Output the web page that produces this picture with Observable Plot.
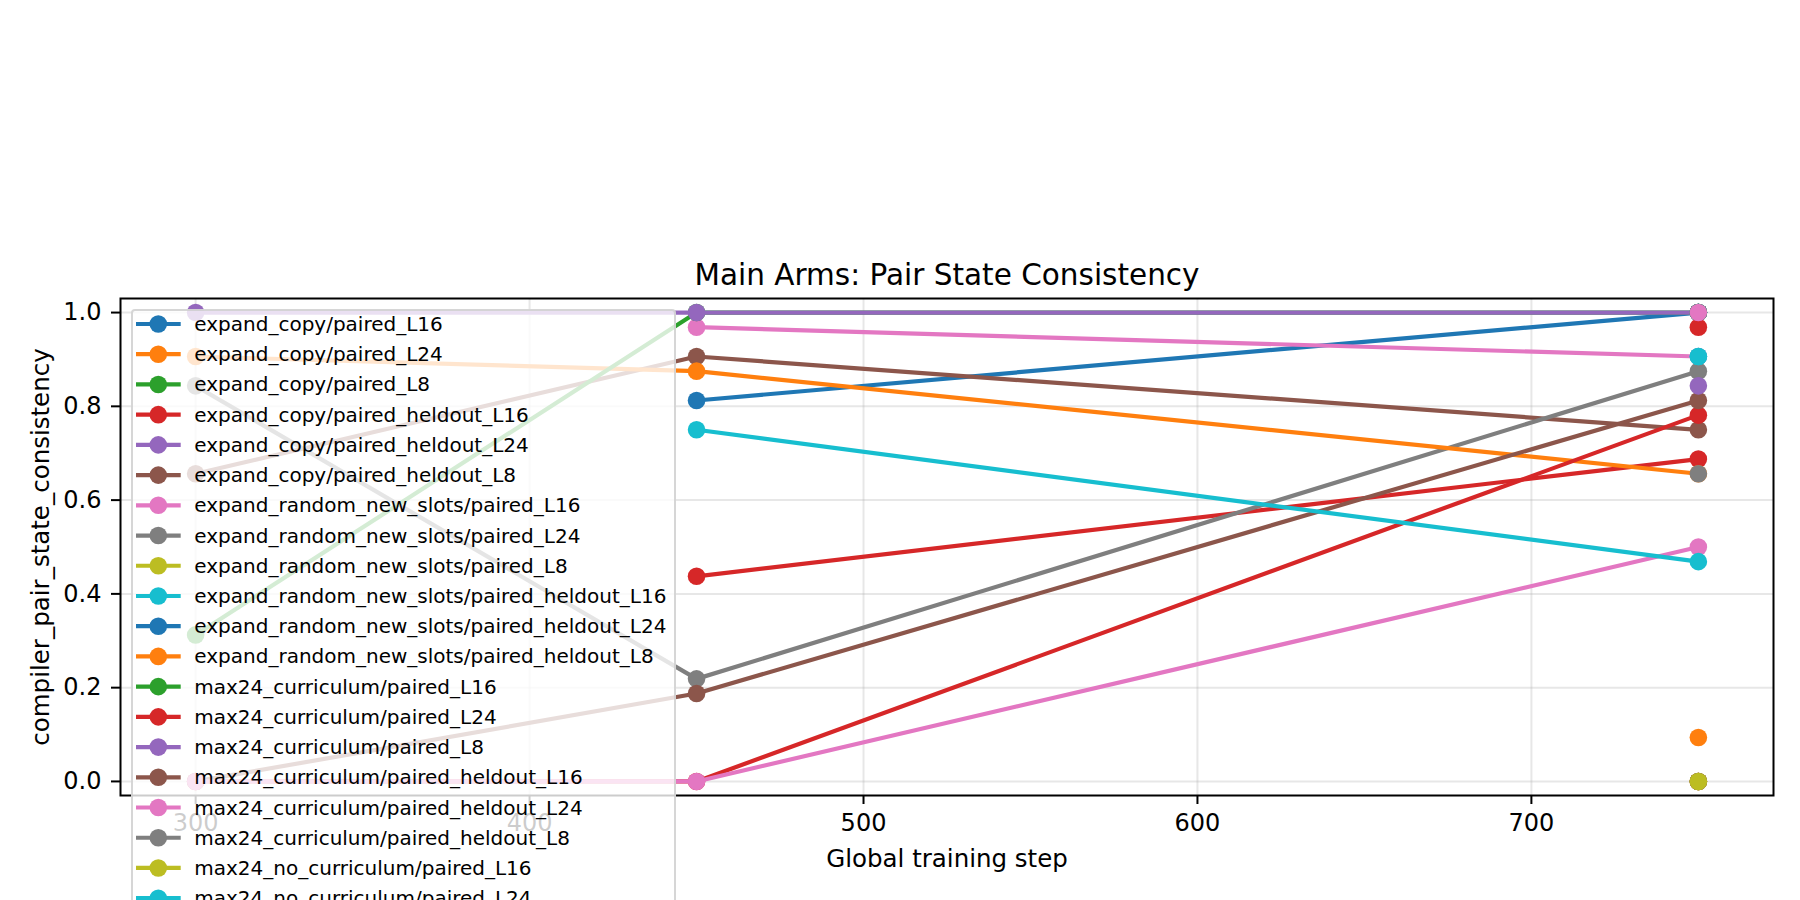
<!DOCTYPE html>
<html>
<head>
<meta charset="utf-8">
<script src="https://cdn.jsdelivr.net/npm/d3@7"></script>
<script src="https://cdn.jsdelivr.net/npm/@observablehq/plot@0.6"></script>
<style>
  html, body { margin: 0; padding: 0; background: #fff; width: 1800px; height: 900px; overflow: hidden; }
  #wrap { position: relative; width: 1800px; height: 900px; overflow: hidden; font-family: "DejaVu Sans", sans-serif; }
  #legend { position: absolute; left: 131px; top: 309px; width: 545px; height: 1000px;
            background: rgba(255,255,255,0.8); border: 2px solid rgba(204,204,204,0.8);
            border-radius: 4px; box-sizing: border-box; }
  #legend svg { position: absolute; left: 0; top: 0; overflow: visible; }
</style>
</head>
<body>
<div id="wrap"></div>
<script>
// ---- data ----
const steps = [300, 450, 750];
const arms = ["expand_copy", "expand_random_new_slots", "max24_curriculum", "max24_no_curriculum", "max24_no_expand"];
const probes = ["paired_L16", "paired_L24", "paired_L8", "paired_heldout_L16", "paired_heldout_L24", "paired_heldout_L8"];
// one row per probe, one column per step (null = not evaluated)
const expandCopy = [
  [null, 0.8125, 1.0],
  [null, null, 0.09375],
  [null, null, 1.0],
  [null, 0.4375, 0.6875],
  [null, null, 1.0],
  [0.65625, 0.90625, 0.75]
];
const expandRandomNewSlots = [
  [null, 0.96875, 0.90625],
  [0.84375, 0.21875, 0.875],
  [null, null, 0.0],
  [null, null, 0.90625],
  [null, null, 1.0],
  [0.90625, 0.875, 0.65625]
];
const max24Curriculum = [
  [0.3125, 1.0, 1.0],
  [0.0, 0.0, 0.78125],
  [1.0, 1.0, 1.0],
  [0.0, 0.1875, 0.8125],
  [0.0, 0.0, 0.5],
  [null, null, 0.65625]
];
const max24NoCurriculum = [
  [null, null, 0.0],
  [null, 0.75, 0.46875],
  [null, null, 1.0],
  [null, null, 0.0],
  [null, null, 1.0],
  [null, null, 0.96875]
];
const max24NoExpand = [
  [null, null, 0.84375],
  [null, null, 0.0],
  [null, null, 1.0],
  [null, null, 0.0],
  [null, null, 0.0],
  [null, null, 0.90625]
];
const xTicks = [300, 400, 500, 600, 700];
const yTicks = [0, 0.2, 0.4, 0.6, 0.8, 1.0];
const titleText = "Main Arms: Pair State Consistency";
const xLabel = "Global training step";
const yLabel = "compiler_pair_state_consistency";
const tab10 = ["#1f77b4", "#ff7f0e", "#2ca02c", "#d62728", "#9467bd", "#8c564b", "#e377c2", "#7f7f7f", "#bcbd22", "#17becf"];

// ---- build series ----
const armValues = [expandCopy, expandRandomNewSlots, max24Curriculum, max24NoCurriculum, max24NoExpand];
const series = [];
arms.forEach((arm, a) => probes.forEach((p, j) => series.push({ name: `${arm}/${p}`, values: armValues[a][j] })));
const names = series.map(s => s.name);
const colors = names.map((_, i) => tab10[i % 10]);

const LW = 4.2, R = 8.8;
const marks = [
  Plot.gridX(xTicks, { stroke: "#b0b0b0", strokeOpacity: 0.3, strokeWidth: 2 }),
  Plot.gridY(yTicks, { stroke: "#b0b0b0", strokeOpacity: 0.3, strokeWidth: 2 })
];
series.forEach(s => {
  const pts = steps.map((st, i) => ({ series: s.name, step: st, value: s.values[i] })).filter(d => d.value != null);
  marks.push(Plot.line(pts, { x: "step", y: "value", stroke: "series", strokeWidth: LW, strokeLinecap: "butt" }));
  marks.push(Plot.dot(pts, { x: "step", y: "value", fill: "series", r: R }));
});
marks.push(
  Plot.frame({ stroke: "black", strokeWidth: 2 }),
  Plot.axisX(xTicks, { tickSize: 9, tickPadding: 9.5, strokeWidth: 2, fontSize: 24, label: null }),
  Plot.axisY(yTicks, { tickSize: 9, tickPadding: 10, strokeWidth: 2, fontSize: 24, tickFormat: d3.format(".1f"), label: null }),
  Plot.text([titleText], { frameAnchor: "top", dy: -14, lineAnchor: "bottom", textAnchor: "middle", text: d => d, fontSize: 29.5 }),
  Plot.text([xLabel], { frameAnchor: "bottom", dy: 71, lineAnchor: "bottom", textAnchor: "middle", text: d => d, fontSize: 24.5 }),
  Plot.text([yLabel], { frameAnchor: "left", dx: -79, rotate: -90, lineAnchor: "middle", textAnchor: "middle", text: d => d, fontSize: 24.5 })
);

const chart = Plot.plot({
  width: 1800,
  height: 900,
  marginLeft: 120,
  marginRight: 27,
  marginTop: 298,
  marginBottom: 105,
  x: { type: "linear", domain: [277.5, 772.5] },
  y: { type: "linear", domain: [-0.03, 1.03] },
  color: { type: "ordinal", domain: names, range: colors },
  style: { fontFamily: "DejaVu Sans", fontSize: "24px", color: "black", background: "white", overflow: "visible" },
  marks
});
const wrap = document.getElementById("wrap");
wrap.appendChild(chart);

// ---- legend (overlay, like matplotlib's semi-transparent frame) ----
const color = chart.scale("color");
const legend = document.createElement("div");
legend.id = "legend";
wrap.appendChild(legend);
const lsvg = d3.select(legend).append("svg").attr("width", 541).attr("height", 1000);
names.forEach((n, i) => {
  const cy = 13 + i * 30.22;
  const c = color.apply(n);
  const g = lsvg.append("g").attr("transform", `translate(0,${cy})`);
  g.append("line").attr("x1", 3).attr("x2", 47.7).attr("y1", 0).attr("y2", 0)
    .attr("stroke", c).attr("stroke-width", LW);
  g.append("circle").attr("cx", 25.3).attr("cy", 0).attr("r", R).attr("fill", c);
  g.append("text").attr("x", 61.3).attr("y", 7).attr("font-family", "DejaVu Sans")
    .attr("font-size", 20).attr("fill", "black").text(n);
});
</script>
</body>
</html>
